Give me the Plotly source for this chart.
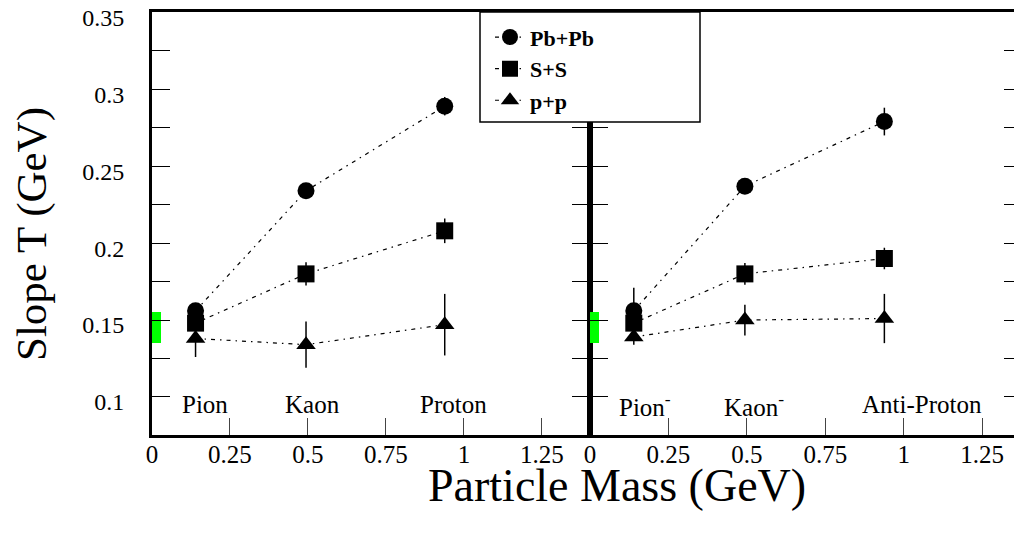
import plotly.graph_objs as go

# particle masses (GeV)
mass = [0.1396, 0.4937, 0.9383]

# slope parameters T (GeV), positive particles (left panel)
pbpb_pos = [0.156, 0.234, 0.289]
pbpb_pos_err = [0.003, 0.004, 0.006]
ss_pos = [0.148, 0.180, 0.208]
ss_pos_err = [0.004, 0.0075, 0.008]
pp_pos = [0.138, 0.134, 0.147]
pp_pos_err = [0.012, 0.015, 0.020]

# negative particles (right panel)
pbpb_neg = [0.156, 0.237, 0.279]
pbpb_neg_err = [0.015, 0.004, 0.009]
ss_neg = [0.148, 0.180, 0.190]
ss_neg_err = [0.004, 0.007, 0.007]
pp_neg = [0.139, 0.150, 0.151]
pp_neg_err = [0.005, 0.010, 0.016]

series_names = ['Pb+Pb', 'S+S', 'p+p']
symbols = ['circle', 'square', 'triangle-up']

labels_pos = ['Pion', 'Kaon', 'Proton']
labels_neg = ['Pion<sup>-</sup>', 'Kaon<sup>-</sup>', 'Anti-Proton']

# green band near zero mass
band_low = 0.135
band_high = 0.155
band_width = 0.028

font_family = 'Liberation Serif'
dash_style = '4px,5px,1.5px,5px'

fig = go.Figure()

left = [(pbpb_pos, pbpb_pos_err), (ss_pos, ss_pos_err), (pp_pos, pp_pos_err)]
right = [(pbpb_neg, pbpb_neg_err), (ss_neg, ss_neg_err), (pp_neg, pp_neg_err)]

for panel, (xa, ya, data) in enumerate([('x', 'y', left), ('x2', 'y2', right)]):
    fig.add_trace(go.Bar(x=[band_width / 2], y=[band_high - band_low], base=[band_low],
                         width=[band_width], marker=dict(color='#00ff00', line=dict(width=0)),
                         xaxis=xa, yaxis=ya, showlegend=False, hoverinfo='skip'))
    for i, (vals, errs) in enumerate(data):
        fig.add_trace(go.Scatter(
            x=mass, y=vals, mode='lines+markers', name=series_names[i],
            error_y=dict(type='data', array=errs, color='black', thickness=1.5, width=0),
            line=dict(color='black', width=1.2, dash=dash_style),
            marker=dict(symbol=symbols[i], size=17, color='black'),
            xaxis=xa, yaxis=ya, showlegend=(panel == 0), legendrank=i))

x_ticks = [0, 0.25, 0.5, 0.75, 1, 1.25]
y_ticks = [0.1, 0.125, 0.15, 0.175, 0.2, 0.225, 0.25, 0.275, 0.3, 0.325, 0.35]
y_text = ['0.1', '', '0.15', '', '0.2', '', '0.25', '', '0.3', '', '0.35']

split = (590 - 152) / 870

xcommon = dict(showgrid=False, zeroline=False, showline=True, linecolor='black', linewidth=3,
               mirror=True, ticks='inside', ticklen=17, tickwidth=1, tickcolor='#444',
               tickvals=x_ticks, automargin=False, ticklabeloverflow='allow',
               ticklabelstandoff=-5,
               tickfont=dict(family=font_family, size=25, color='black'))
ycommon = dict(showgrid=False, zeroline=False, showline=True, linecolor='black', linewidth=3,
               mirror='ticks', ticks='inside', ticklen=18, tickwidth=1, tickcolor='black',
               range=[0.0753, 0.3502], tickvals=y_ticks, ticktext=y_text, automargin=False,
               ticklabeloverflow='allow',
               tickfont=dict(family=font_family, size=24, color='black'))

# page body adds an 8px offset, so the figure is sized to fit the window
fig.update_layout(
    width=1014, height=525,
    margin=dict(l=144, r=0, t=4, b=98),
    paper_bgcolor='white', plot_bgcolor='white',
    xaxis=dict(domain=[0, split], range=[0, 1.404], anchor='y', **xcommon),
    xaxis2=dict(domain=[split, 1], range=[0, 1.377], anchor='y2', **xcommon),
    yaxis=dict(anchor='x', ticklabelstandoff=20, ticklabelshift=5, **ycommon),
    yaxis2=dict(anchor='x2', matches='y', showticklabels=False, **ycommon),
    legend=dict(x=(490 - 152) / 870, y=0.99, xanchor='left', yanchor='top',
                bgcolor='rgba(0,0,0,0)', borderwidth=0,
                font=dict(family=font_family, size=22, color='black', weight='bold')),
    bargap=0,
    showlegend=True,
)

# legend frame
fig.add_shape(type='rect', xref='paper', yref='paper',
              x0=(480 - 152) / 870, x1=(700 - 152) / 870, y0=(435 - 122) / 423, y1=1.0,
              line=dict(color='black', width=1.5), fillcolor='white', layer='above')

label_x_pos = [0.169, 0.516, 0.968]
label_x_neg = [0.176, 0.523, 1.059]
label_y = 0.0948
for i in range(3):
    fig.add_annotation(x=label_x_pos[i], y=label_y, xref='x', yref='y', text=labels_pos[i],
                       showarrow=False, font=dict(family=font_family, size=25, color='black'))
    fig.add_annotation(x=label_x_neg[i], y=label_y, xref='x2', yref='y2', text=labels_neg[i],
                       showarrow=False, font=dict(family=font_family, size=25, color='black'))

fig.add_annotation(x=(617 - 152) / 870, y=(435 - 485) / 423, xref='paper', yref='paper',
                   text='Particle Mass (GeV)', showarrow=False, yanchor='middle',
                   font=dict(family=font_family, size=46, color='black'))
fig.add_annotation(x=(32 - 152) / 870, y=(435 - 234) / 423, xref='paper', yref='paper',
                   text='Slope T (GeV)', showarrow=False, textangle=-90, xanchor='center',
                   font=dict(family=font_family, size=43, color='black'))

fig.write_html("out.html")
